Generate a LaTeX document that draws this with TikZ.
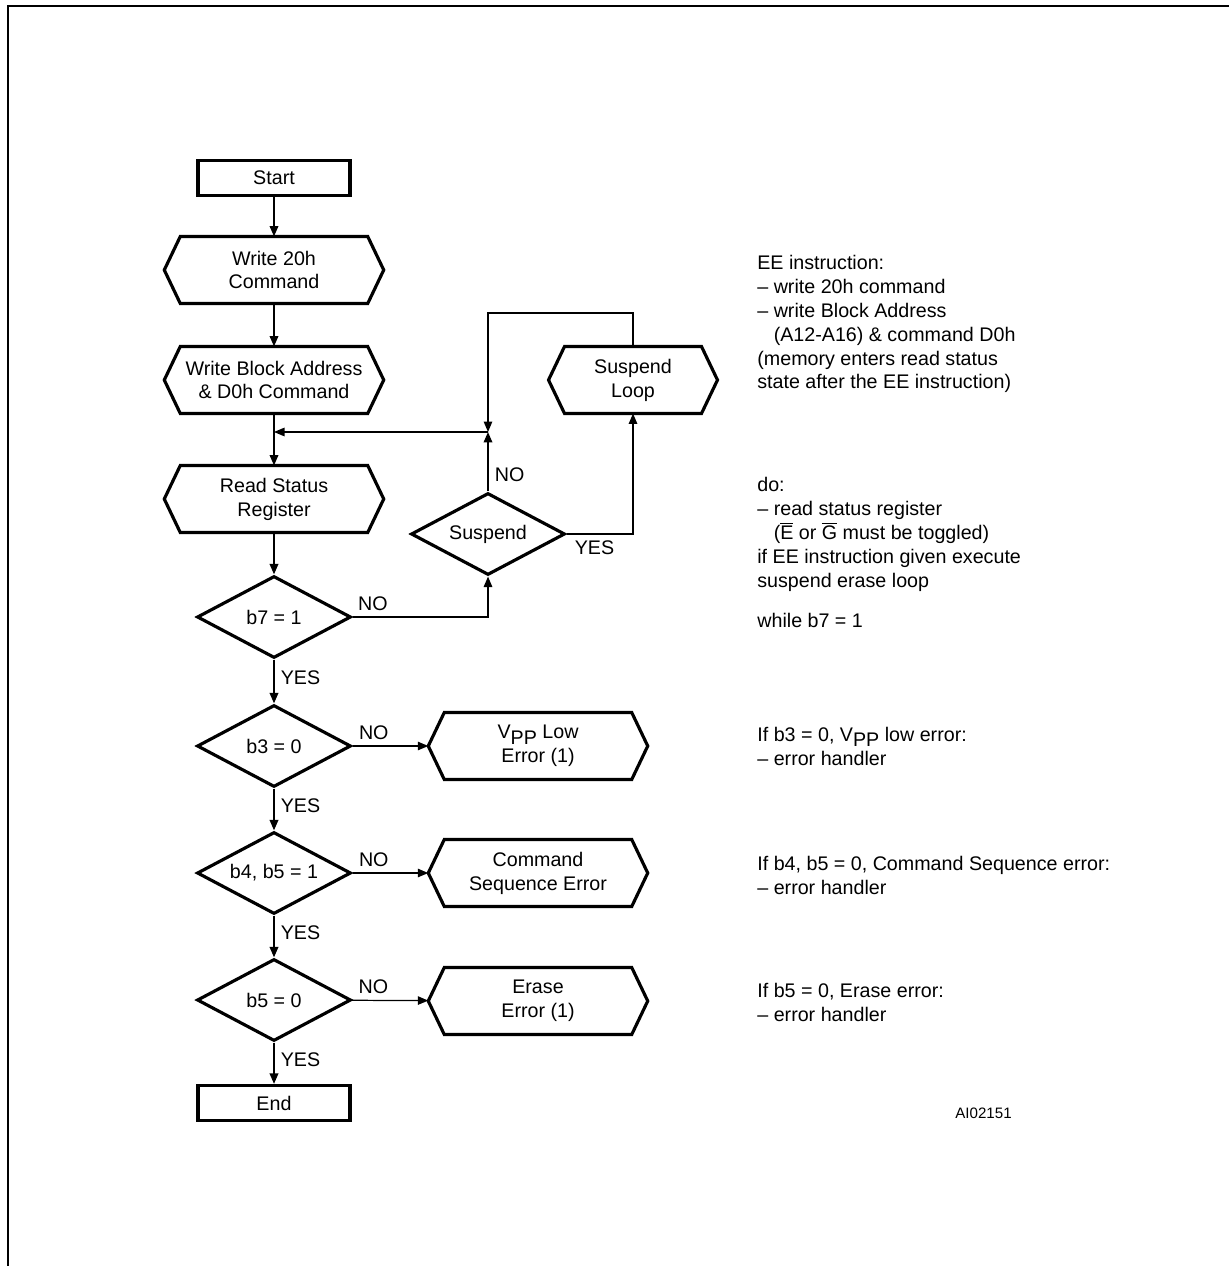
\documentclass[tikz,border=0pt]{standalone}
\usepackage{fontspec}
\setmainfont{Liberation Sans}
\usetikzlibrary{shapes.geometric,arrows.meta}

\tikzstyle{joint} = [coordinate]

\begin{document}
\begin{tikzpicture}[x=0.02cm,y=-0.02cm,font=\fontsize{11.2}{13.6}\selectfont,
  >={Triangle[length=0.21cm,width=0.17cm]}]
\tikzstyle{term} = [draw,line width=1.8pt,minimum width=3.04cm,minimum height=0.7cm]
\tikzstyle{hexa} = [minimum width=3.75cm,minimum height=1.34cm,inner sep=0pt,outer xsep=0.32cm,outer ysep=0pt,align=center]
\tikzstyle{test} = [draw,diamond,aspect=1.9,line width=1.8pt,minimum width=3.08cm,minimum height=1.64cm,inner sep=0pt]
\tikzstyle{flow} = [->,line width=1.1pt]
\tikzstyle{branch} = [->,line width=0.7pt]
\tikzstyle{yes} = [pos=0.42,right]
\tikzstyle{no} = [pos=0.28,above]
\tikzstyle{note} = [anchor=base west,align=left,inner sep=0pt]
\useasboundingbox (0,0) rectangle (1229,1266);
% page frame
\draw[line width=1.5pt] (8,1266) -- (8,6) -- (1229,6);
% main column
\node[term] at (274,178) (start) {Start};
\node[hexa] at (274,270) (write1) {Write 20h\\Command};
\node[hexa] at (274,380) (write2) {Write Block Address\\\& D0h Command};
\node[hexa] at (274,499) (read) {Read Status\\Register};
\node[test] at (274,617) (b7) {b7 = 1};
\node[test] at (274,746) (b3) {b3 = 0};
\node[test] at (274,873) (b4) {b4, b5 = 1};
\node[test] at (274,1000) (b5) {b5 = 0};
\node[term] at (274,1103) (finish) {End};
% suspend branch and error boxes
\node[test] at (488,534) (susp) {Suspend};
\node[hexa,minimum width=2.74cm] at (633,380) (suspl) {Suspend\\Loop};
\node[hexa] at (538,746) (vpp) {V\raisebox{-0.55ex}{PP} Low\\Error (1)};
\node[hexa] at (538,873) (cmdseq) {Command\\Sequence Error};
\node[hexa] at (538,1001) (erase) {Erase\\Error (1)};
\node[joint] at (274,432) (jl) {};
\node[joint] at (488,432) (jr) {};
\node[joint] at (488,313) (looptop) {};
\foreach \n in {write1,write2,read,suspl,vpp,cmdseq,erase}{
    \draw[line width=1.8pt] ([xshift=0.32cm]\n.north west) -- ([xshift=-0.32cm]\n.north east) -- (\n.east)
      -- ([xshift=-0.32cm]\n.south east) -- ([xshift=0.32cm]\n.south west) -- (\n.west) -- cycle;
}
\draw[flow] (start) -- (write1);
\draw[flow] (write1) -- (write2);
\draw[flow] (write2) -- (read);
\draw[flow] (read) -- (b7);
\draw[flow] (b7) -- node[yes] {YES} (b3);
\draw[flow] (b3) -- node[yes] {YES} (b4);
\draw[flow] (b4) -- node[yes] {YES} (b5);
\draw[flow] (b5) -- node[yes] {YES} (finish);
\draw[branch] (b3) -- node[no] {NO} (vpp);
\draw[branch] (b4) -- node[no] {NO} (cmdseq);
\draw[branch] (b5) -- node[no] {NO} (erase);
\draw[flow,line width=0.9pt] (b7) -| node[pos=0.075,above] {NO} (susp);
\draw[flow] (susp) -- node[pos=0.28,right] {NO} (jr);
\draw[flow,line width=0.9pt] (susp) -| node[pos=0.21,below] {YES} (suspl);
\draw[flow,line width=0.8pt] (suspl) |- (looptop) -- (jr);
\draw[branch] (jr) -- (jl);
% notes (base = last line)
\node[note] at (757,389) (eeinfo) {EE instruction:\\– write 20h command\\– write Block Address\\\phantom{–\ }(A12-A16) \& command D0h\\(memory enters read status\\state after the EE instruction)};
\node[note] at (757,587) (doinfo) {do:\\– read status register\\\phantom{–\ }($\overline{\mbox{E}}$ or $\overline{\mbox{G}}$ must be toggled)\\if EE instruction given execute\\suspend erase loop};
\node[note] at (757,627) (whileinfo) {while b7 = 1};
\node[note] at (757,765) (vppinfo) {If b3 = 0, V\raisebox{-0.55ex}{PP} low error:\\– error handler};
\node[note] at (757,894) (seqinfo) {If b4, b5 = 0, Command Sequence error:\\– error handler};
\node[note] at (757,1021) (eraseinfo) {If b5 = 0, Erase error:\\– error handler};
\node[note,font=\fontsize{8.6}{10}\selectfont] at (955,1118) (fignum) {AI02151};
\end{tikzpicture}
\end{document}
